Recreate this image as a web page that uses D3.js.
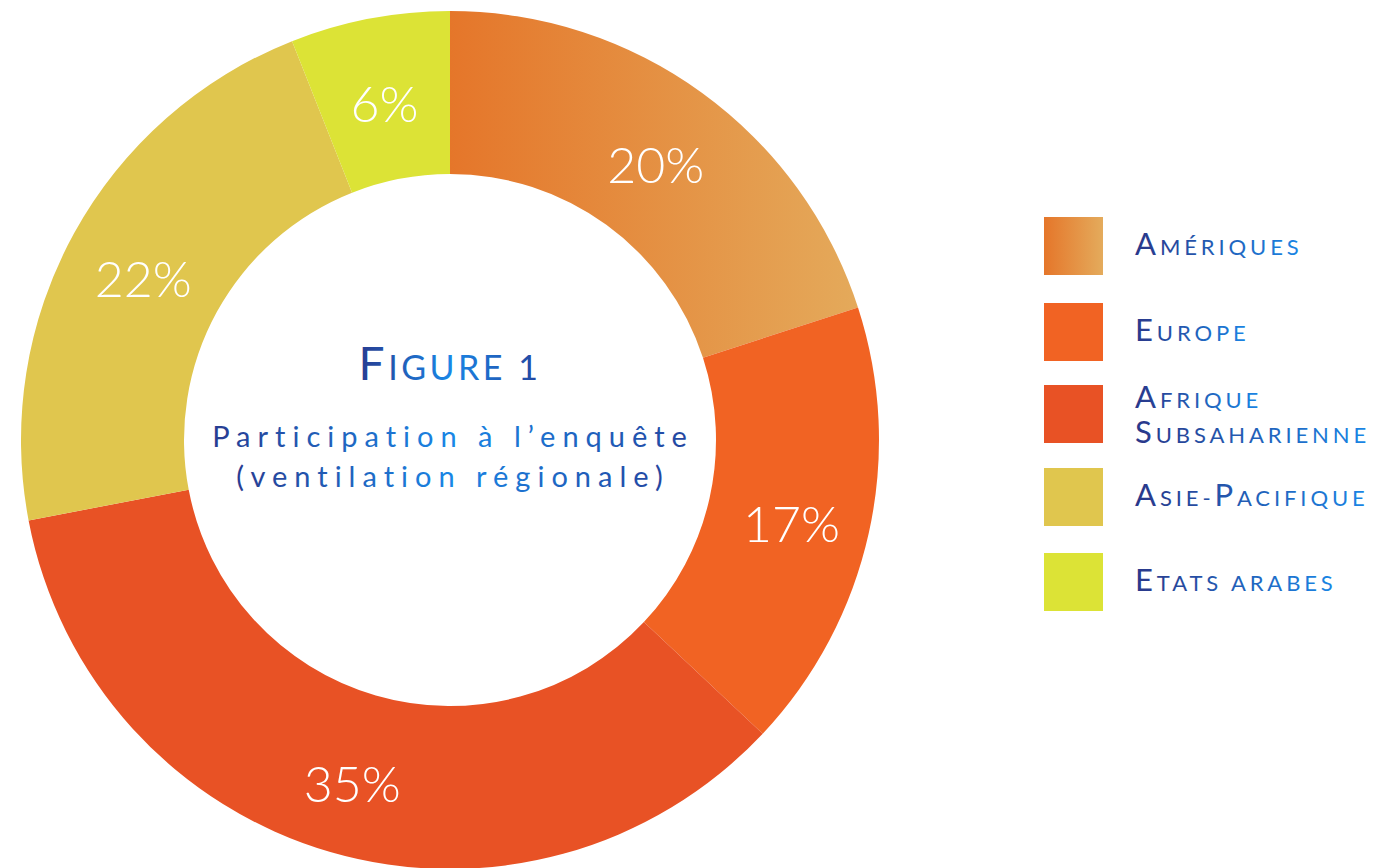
<!DOCTYPE html>
<html>
<head>
<meta charset="utf-8">
<script src="https://cdn.jsdelivr.net/npm/d3@7"></script>
<style>
  html, body { margin: 0; padding: 0; background: #ffffff; }
  svg { display: block; }
</style>
</head>
<body>
<svg id="chart" width="1378" height="868"></svg>
<script>
// ---- data ----
const categories = ["Amériques", "Europe", "Afrique Subsaharienne", "Asie-Pacifique", "Etats arabes"];
const values = [20, 17, 35, 22, 6];
const valueLabels = ["20%", "17%", "35%", "22%", "6%"];
const legendLines = [["Amériques"], ["Europe"], ["Afrique", "Subsaharienne"], ["Asie-Pacifique"], ["Etats arabes"]];
const colors = ["url(#gradAmeriques)", "#f16323", "#e85225", "#e0c64e", "#dce336"];
const titleText = "Figure 1";
const subtitleLines = ["Participation à l’enquête", "(ventilation régionale)"];

const svg = d3.select("#chart");
const defs = svg.append("defs");

const cx = 450, cy = 440, outerR = 429, innerR = 266;

// Gradient for Amériques slice (horizontal across slice extent)
const gA = defs.append("linearGradient").attr("id", "gradAmeriques")
  .attr("gradientUnits", "userSpaceOnUse")
  .attr("x1", 0).attr("y1", 0).attr("x2", outerR * Math.sin(72 * Math.PI / 180) + 10).attr("y2", 0);
gA.append("stop").attr("offset", "0%").attr("stop-color", "#e5762a");
gA.append("stop").attr("offset", "100%").attr("stop-color", "#e4ab5c");

const gS = defs.append("linearGradient").attr("id", "gradSwatch")
  .attr("x1", "0%").attr("x2", "100%").attr("y1", "0%").attr("y2", "0%");
gS.append("stop").attr("offset", "0%").attr("stop-color", "#e5762a");
gS.append("stop").attr("offset", "100%").attr("stop-color", "#e4ab5c");

// Text gradients
const gT = defs.append("linearGradient").attr("id", "gradText")
  .attr("x1", "0%").attr("x2", "100%").attr("y1", "0%").attr("y2", "0%");
gT.append("stop").attr("offset", "0%").attr("stop-color", "#283c91");
gT.append("stop").attr("offset", "50%").attr("stop-color", "#1a86e6");
gT.append("stop").attr("offset", "100%").attr("stop-color", "#24449e");

const gL = defs.append("linearGradient").attr("id", "gradLegend")
  .attr("x1", "0%").attr("x2", "100%").attr("y1", "0%").attr("y2", "0%");
gL.append("stop").attr("offset", "0%").attr("stop-color", "#2a3789");
gL.append("stop").attr("offset", "100%").attr("stop-color", "#1a86e6");

const swatchFills = ["url(#gradSwatch)", colors[1], colors[2], colors[3], colors[4]];

// ---- donut ----
const pie = d3.pie().sort(null).value(d => d);
const arc = d3.arc().innerRadius(innerR).outerRadius(outerR);
const labelArc = d3.arc().innerRadius(350).outerRadius(350);

const g = svg.append("g").attr("transform", `translate(${cx},${cy})`);
const arcs = pie(values);

g.selectAll("path.slice").data(arcs).enter().append("path")
  .attr("class", "slice")
  .attr("d", arc)
  .attr("fill", (d, i) => colors[i]);

g.selectAll("text.pct").data(arcs).enter().append("text")
  .attr("class", "pct")
  .attr("transform", d => `translate(${labelArc.centroid(d)})`)
  .attr("text-anchor", "middle")
  .attr("dy", "0.52em")
  .attr("fill", "#ffffff")
  .style("font-family", "Lato, 'Open Sans', sans-serif")
  .style("font-weight", 300)
  .style("font-size", "50px")
  .text((d, i) => valueLabels[i]);

// ---- small caps helper ----
function smallCaps(textSel, str, bigSize, smallSize) {
  const words = str.split(" ");
  words.forEach((w, wi) => {
    if (wi > 0) textSel.append("tspan").style("font-size", smallSize + "px").text(" ");
    let buf = "", bufBig = null;
    const flush = () => {
      if (buf) textSel.append("tspan").style("font-size", (bufBig ? bigSize : smallSize) + "px").text(bufBig ? buf : buf.toUpperCase());
      buf = "";
    };
    for (const ch of w) {
      const isBig = ch === ch.toUpperCase() && ch !== ch.toLowerCase();
      if (bufBig !== null && isBig !== bufBig) flush();
      bufBig = isBig;
      buf += ch;
    }
    flush();
  });
}

// ---- title ----
const title = svg.append("text")
  .attr("x", cx).attr("y", 380)
  .attr("text-anchor", "middle")
  .attr("fill", "url(#gradText)")
  .style("font-family", "Lato, 'Open Sans', sans-serif")
  .style("letter-spacing", "3.5px");
smallCaps(title, titleText, 46, 34);

subtitleLines.forEach((line, i) => {
  svg.append("text")
    .attr("x", cx + 3).attr("y", 447 + i * 40)
    .attr("text-anchor", "middle")
    .attr("fill", "url(#gradText)")
    .style("font-family", "Lato, 'Open Sans', sans-serif")
    .style("font-size", "29px")
    .style("letter-spacing", "7px")
    .text(line);
});

// ---- legend ----
const swTop = [217, 303, 385, 468, 553];
const legend = svg.append("g");
categories.forEach((c, i) => {
  legend.append("rect")
    .attr("x", 1044).attr("y", swTop[i])
    .attr("width", 59).attr("height", 58)
    .attr("fill", swatchFills[i]);
  const lines = legendLines[i];
  lines.forEach((ln, j) => {
    const baseY = lines.length === 1 ? swTop[i] + 38 : swTop[i] + 23 + j * 35;
    const t = legend.append("text")
      .attr("x", 1135).attr("y", baseY)
      .attr("fill", "url(#gradLegend)")
      .style("font-family", "Lato, 'Open Sans', sans-serif")
      .style("letter-spacing", "3.9px");
    smallCaps(t, ln, 31, 22);
  });
});
</script>
</body>
</html>
